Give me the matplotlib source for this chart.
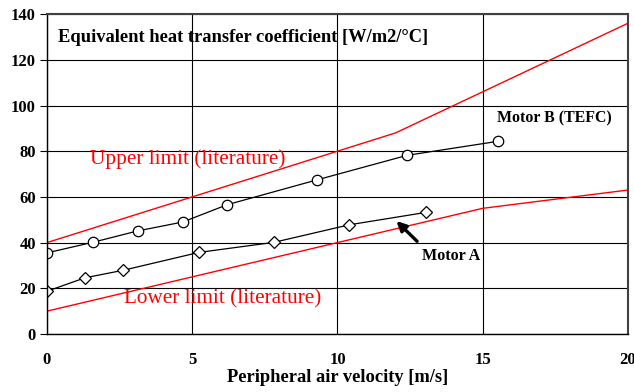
import matplotlib
matplotlib.use("Agg")
import matplotlib.pyplot as plt

plt.rcParams['font.family'] = ['Liberation Serif', 'DejaVu Serif']

# Motor B (TEFC)
motor_b_x = [0, 1.57, 3.12, 4.67, 6.21, 9.28, 12.40, 15.51]
motor_b_y = [35.5, 40.1, 45.1, 49.0, 56.6, 67.4, 78.2, 84.3]

# Motor A
motor_a_x = [0, 1.31, 2.63, 5.23, 7.81, 10.41, 13.04]
motor_a_y = [18.7, 24.6, 27.9, 35.7, 40.1, 47.8, 53.2]

# literature limits
upper_x = [0, 12, 20]
upper_y = [40, 88, 136]
lower_x = [0, 15, 20]
lower_y = [10, 55, 63]

xticks = [0, 5, 10, 15, 20]
yticks = [0, 20, 40, 60, 80, 100, 120, 140]

fig = plt.figure(figsize=(6.34, 3.92), dpi=100)
ax = fig.add_axes([0.0741, 0.148, 0.9164, 0.816])

ax.plot(upper_x, upper_y, color='#ff0000', lw=1.0)
ax.plot(lower_x, lower_y, color='#ff0000', lw=1.0)
ax.plot(motor_b_x, motor_b_y, color='black', lw=0.9, marker='o',
        markersize=7.5, markerfacecolor='white', markeredgecolor='black', markeredgewidth=0.9)
ax.plot(motor_a_x, motor_a_y, color='black', lw=0.9, marker='D',
        markersize=6, markerfacecolor='white', markeredgecolor='black', markeredgewidth=0.9)

ax.set_xlim(0, 20)
ax.set_ylim(0, 140)
ax.set_xticks(xticks)
ax.set_yticks(yticks)
ax.grid(True, color='black', lw=0.8)
ax.set_axisbelow(True)

ax.tick_params(axis='y', direction='out', length=5, width=0.8, pad=3, labelsize=12)
ax.tick_params(axis='x', direction='out', length=0, pad=13, labelsize=12)
for lab in ax.get_xticklabels() + ax.get_yticklabels():
    lab.set_fontweight('bold')

for side in ['top', 'right']:
    ax.spines[side].set_color('#404040')
    ax.spines[side].set_linewidth(1.5)
for side in ['left', 'bottom']:
    ax.spines[side].set_color('black')
    ax.spines[side].set_linewidth(1.0)

ax.set_xlabel('Peripheral air velocity [m/s]', fontsize=13.3, fontweight='bold', labelpad=1)

ax.text(0.38, 129.8, 'Equivalent heat transfer coefficient [W/m2/\u00b0C]',
        fontsize=13.3, fontweight='bold', va='center', ha='left')
ax.text(1.48, 76.5, 'Upper limit (literature)', color='#ff0000',
        fontsize=15.3, va='center', ha='left')
ax.text(2.65, 15.3, 'Lower limit (literature)', color='#ff0000',
        fontsize=15.3, va='center', ha='left')
ax.text(15.48, 94.2, 'Motor B (TEFC)', fontsize=11.4, fontweight='bold',
        va='center', ha='left')
ax.text(12.9, 34.0, 'Motor A', fontsize=11.6, fontweight='bold',
        va='center', ha='left')
ax.annotate('', xy=(11.96, 50.3), xytext=(12.81, 39.7),
            arrowprops=dict(arrowstyle='-|>', color='black', lw=2.4, mutation_scale=14))

fig.savefig('out.png', dpi=100)
